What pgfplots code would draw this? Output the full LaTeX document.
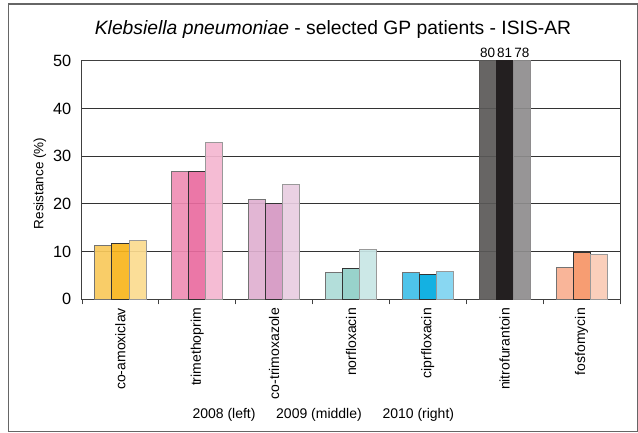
\documentclass[border=0pt]{standalone}
\usepackage{fontspec}
\setmainfont{Liberation Sans}
\usepackage{pgfplots}
\pgfplotsset{compat=1.18}

% colours per antibiotic: 2008 / 2009 / 2010
\definecolor{amoxA}{HTML}{F9C95B}\definecolor{amoxB}{HTML}{F8B51C}\definecolor{amoxC}{HTML}{FBDB8F}
\definecolor{trimA}{HTML}{EF8EB4}\definecolor{trimB}{HTML}{E96B9F}\definecolor{trimC}{HTML}{F4B6D0}
\definecolor{cotrA}{HTML}{DFB0D0}\definecolor{cotrB}{HTML}{D597C2}\definecolor{cotrC}{HTML}{E8CDE1}
\definecolor{norfA}{HTML}{ACDBD7}\definecolor{norfB}{HTML}{8FCEC7}\definecolor{norfC}{HTML}{C8E6E5}
\definecolor{cipA}{HTML}{3FBFE8}\definecolor{cipB}{HTML}{00AADF}\definecolor{cipC}{HTML}{7FD4F1}
\definecolor{nitA}{HTML}{5A5857}\definecolor{nitB}{HTML}{231F20}\definecolor{nitC}{HTML}{8E8C8D}
\definecolor{fosA}{HTML}{F8AF90}\definecolor{fosB}{HTML}{F69566}\definecolor{fosC}{HTML}{FACBB5}

\pgfplotsset{
  yrA/.style={ybar, bar width=0.222, bar shift=-0.222, draw=black!55, fill opacity=0.92, line width=0.8pt},
  yrB/.style={ybar, bar width=0.222, bar shift=0, draw=black!80, fill opacity=0.92, line width=0.8pt},
  yrC/.style={ybar, bar width=0.222, bar shift=0.222, draw=black!40, fill opacity=0.92, line width=0.8pt},
}

\begin{document}
\begin{tikzpicture}[x=1pt,y=1pt]
\useasboundingbox (0,0) rectangle (638,432);
\draw[black!60, line width=1.2pt] (8.3,0.6) rectangle (637.4,428);

\begin{axis}[
  at={(82pt,132.7pt)}, anchor=south west,
  scale only axis, width=538pt, height=238.6pt,
  xmin=-0.5, xmax=6.5, ymin=0, ymax=50,
  ytick={0,10,...,50},
  ymajorgrids, grid style={black!80, line width=0.8pt},
  axis line style={black!75, line width=1pt},
  xtick={0,...,6},
  xticklabels={co-amoxiclav,trimethoprim,co-trimoxazole,norfloxacin,ciprfloxacin,nitrofurantoin,fosfomycin},
  minor xtick={-0.5,0.5,...,6.5},
  major tick length=0pt, minor tick length=5pt,
  tick align=outside, xtick pos=bottom, ytick pos=left,
  minor tick style={black!75, line width=0.8pt},
  xticklabel style={rotate=90, anchor=east, inner sep=0pt, font=\fontsize{14}{16}\selectfont},
  xticklabel shift=8.7pt,
  yticklabel style={inner sep=0pt, xshift=-10.5pt, font=\fontsize{16.3}{18}\selectfont},
  /pgf/number format/assume math mode=true,
  clip mode=individual,
]
% co-amoxiclav
\addplot[yrA, fill=amoxA] coordinates {(0,11.2)};
\addplot[yrB, fill=amoxB] coordinates {(0,11.7)};
\addplot[yrC, fill=amoxC] coordinates {(0,12.3)};
% trimethoprim
\addplot[yrA, fill=trimA] coordinates {(1,26.9)};
\addplot[yrB, fill=trimB] coordinates {(1,26.8)};
\addplot[yrC, fill=trimC] coordinates {(1,32.9)};
% co-trimoxazole
\addplot[yrA, fill=cotrA] coordinates {(2,20.9)};
\addplot[yrB, fill=cotrB] coordinates {(2,20.2)};
\addplot[yrC, fill=cotrC] coordinates {(2,24.0)};
% norfloxacin
\addplot[yrA, fill=norfA] coordinates {(3,5.7)};
\addplot[yrB, fill=norfB] coordinates {(3,6.5)};
\addplot[yrC, fill=norfC] coordinates {(3,10.4)};
% ciprofloxacin
\addplot[yrA, fill=cipA] coordinates {(4,5.7)};
\addplot[yrB, fill=cipB] coordinates {(4,5.2)};
\addplot[yrC, fill=cipC] coordinates {(4,5.8)};
% nitrofurantoin (off scale)
\addplot[yrA, fill=nitA, draw=nitA] coordinates {(5,80)};
\addplot[yrB, fill=nitB, draw=nitB, fill opacity=1] coordinates {(5,81)};
\addplot[yrC, fill=nitC, draw=nitC] coordinates {(5,78)};
% fosfomycin
\addplot[yrA, fill=fosA] coordinates {(6,6.6)};
\addplot[yrB, fill=fosB] coordinates {(6,9.8)};
\addplot[yrC, fill=fosC] coordinates {(6,9.5)};

\node[anchor=base, yshift=2.8pt, font=\fontsize{13.5}{15}\selectfont] at (axis cs:4.778,50) {80};
\node[anchor=base, yshift=2.8pt, font=\fontsize{13.5}{15}\selectfont] at (axis cs:5,50) {81};
\node[anchor=base, yshift=2.8pt, font=\fontsize{13.5}{15}\selectfont] at (axis cs:5.222,50) {78};
\end{axis}

\node[anchor=base, font=\fontsize{19.3}{22}\selectfont] at (333,397)
  {\textit{Klebsiella pneumoniae} - selected GP patients - ISIS-AR};
\node[rotate=90, font=\fontsize{13.5}{16}\selectfont] at (40,248.7) {Resistance (\%)};
\node[anchor=base west, inner sep=0pt, font=\fontsize{14}{16}\selectfont] at (192.3,13.7) {2008 (left)};
\node[anchor=base west, inner sep=0pt, font=\fontsize{14}{16}\selectfont] at (276,13.7) {2009 (middle)};
\node[anchor=base west, inner sep=0pt, font=\fontsize{14}{16}\selectfont] at (382.3,13.7) {2010 (right)};
\end{tikzpicture}
\end{document}
